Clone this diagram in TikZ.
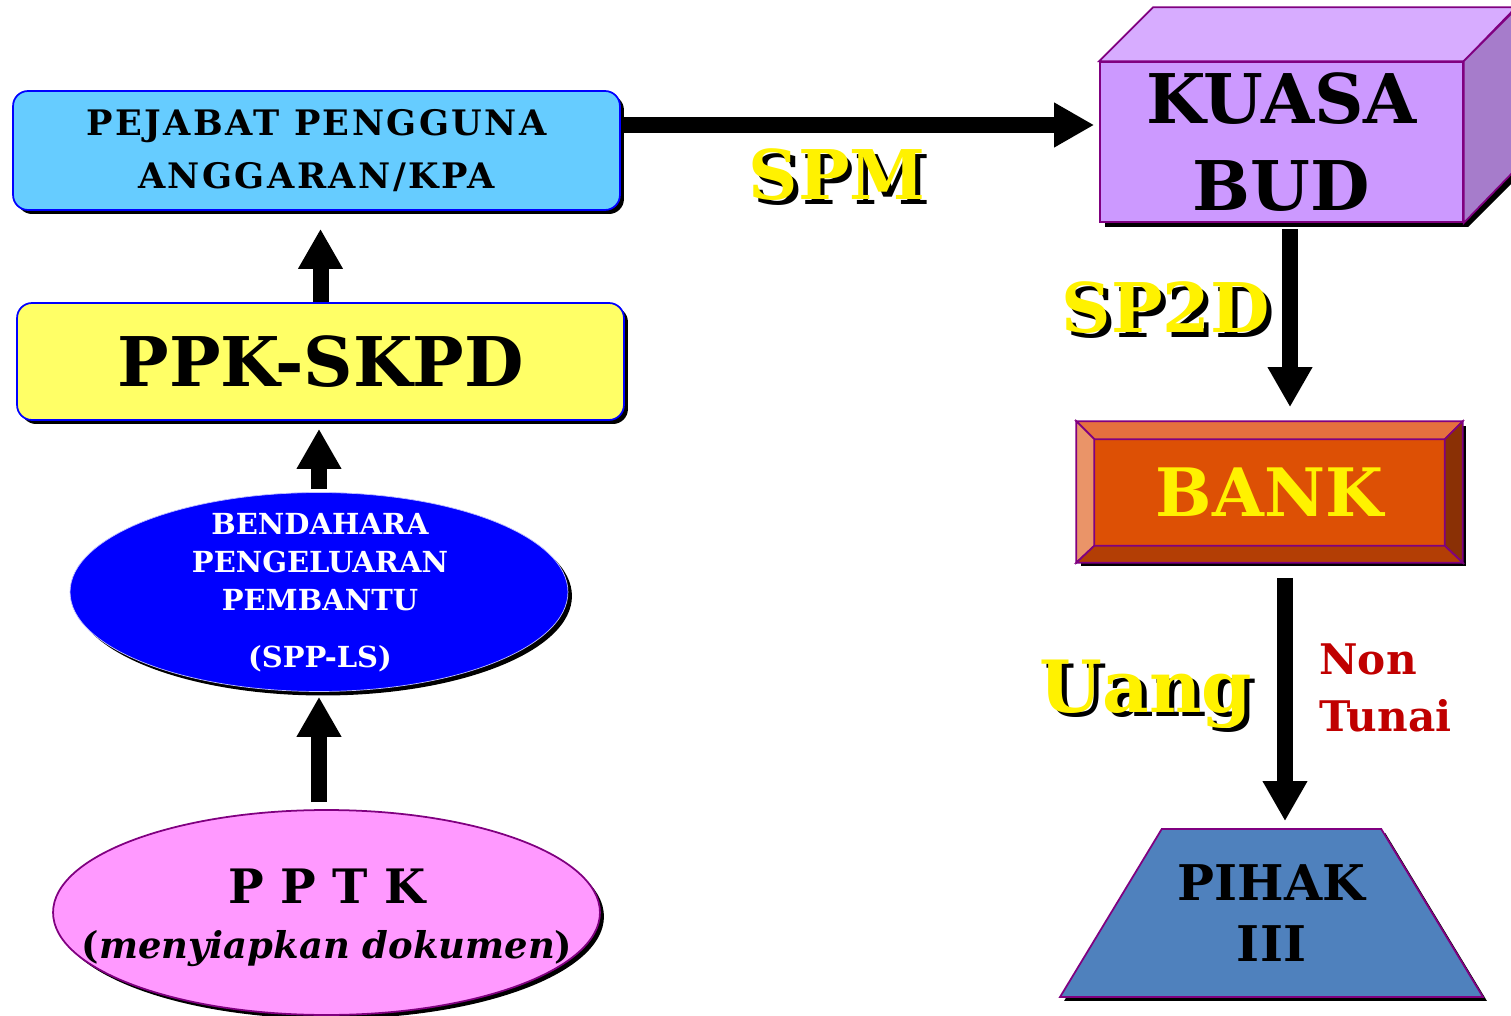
\documentclass[tikz,border=0pt]{standalone}
\usepackage{fontspec}
\setmainfont{DejaVu Serif}
\usetikzlibrary{arrows.meta,shapes.geometric,shadows}

\definecolor{pejafill}{HTML}{66CCFF}
\definecolor{ppkfill}{HTML}{FFFF66}
\definecolor{bordblue}{HTML}{0000FF}
\definecolor{bordpurple}{HTML}{800080}
\definecolor{pptkfill}{HTML}{FF99FF}
\definecolor{cubefront}{HTML}{CC99FF}
\definecolor{cubetop}{HTML}{D7ACFF}
\definecolor{cubeside}{HTML}{A67CCB}
\definecolor{bankmid}{HTML}{DD5005}
\definecolor{banktop}{HTML}{E5703E}
\definecolor{bankleft}{HTML}{EA9468}
\definecolor{bankright}{HTML}{8A3005}
\definecolor{bankbottom}{HTML}{B33E05}
\definecolor{pihakfill}{HTML}{4F81BD}
\definecolor{nontunai}{HTML}{C00000}

\newcommand{\shtext}[1]{\rlap{\kern2.8pt\raisebox{-2.8pt}{\textcolor{black}{#1}}}\textcolor{yellow}{#1}}

\tikzset{
  boxshadow/.style={drop shadow={shadow xshift=0.08cm, shadow yshift=-0.08cm, fill=black, opacity=1}},
  pbox/.style={rectangle, rounded corners=0.3cm, draw=bordblue, line width=1pt, boxshadow, align=center, inner sep=0pt},
  bigarrow/.style={line width=0.32cm, -{Triangle[width=0.84cm,length=0.8cm]}},
  flowlabel/.style={font=\fontsize{39}{44}\selectfont\bfseries, inner sep=0pt, anchor=base}
}

\begin{document}
\begin{tikzpicture}[x=0.02cm, y=-0.02cm]
    \useasboundingbox (0,0) rectangle (1511,1016);

    \node[pbox, fill=pejafill, minimum width=12.14cm, minimum height=2.38cm,
          font=\fontsize{20}{30}\selectfont\bfseries\addfontfeatures{LetterSpace=7}] (peja) at (316.5,150.5) {PEJABAT PENGGUNA\\ANGGARAN/KPA};
    \node[pbox, fill=ppkfill, minimum width=12.14cm, minimum height=2.34cm,
          font=\fontsize{39}{48}\selectfont\bfseries] (ppk) at (320.5,361.5) {PPK-SKPD};
    \node[ellipse, fill=bordblue, draw=white!75!blue, boxshadow, inner sep=0pt,
          minimum width=9.96cm, minimum height=3.98cm] (benda) at (319,592) {};
    \node[text=white, align=center, font=\fontsize{16.5}{21.5}\selectfont\bfseries] (bendatext) at (320,593)
          {BENDAHARA\\PENGELUARAN\\PEMBANTU\\[11pt](SPP-LS)};
    \node[ellipse, fill=pptkfill, draw=bordpurple, line width=1pt, boxshadow, inner sep=0pt,
          minimum width=10.94cm, minimum height=4.1cm] (pptk) at (326.5,912.5) {};
    \node[align=center, font=\fontsize{27}{31}\selectfont\bfseries] (pptktext) at (327,918)
          {P P T K\\\fontsize{21}{31}\selectfont({\itshape menyiapkan dokumen})};

    \fill[black] (1105,67) rectangle (1468,227);
    \fill[black] (1468,227) -- ++(54,-54) -- ++(0,-160) -- ++(-54,54) -- cycle;
    \node[rectangle, fill=cubefront, draw=bordpurple, line width=1pt, minimum width=7.26cm, minimum height=3.2cm,
          align=center, font=\fontsize{39}{50}\selectfont\bfseries] (kuasa) at (1281.5,142) {KUASA\\BUD};
    \filldraw[fill=cubetop, draw=bordpurple, line width=1pt] (kuasa.north west) -- ++(54,-54) -- ++(363,0) -- (kuasa.north east) -- cycle;
    \filldraw[fill=cubeside, draw=bordpurple, line width=1pt] (kuasa.north east) -- ++(54,-54) -- ++(0,160) -- (kuasa.south east) -- cycle;

    \node[rectangle, fill=bankmid, draw=bordpurple, line width=1pt, boxshadow, minimum width=7.7cm, minimum height=2.8cm,
          text=yellow, font=\fontsize{38}{46}\selectfont\bfseries] (bank) at (1269.5,492) {BANK};
    \coordinate (bnw) at ([shift={(18,18)}]bank.north west);
    \coordinate (bne) at ([shift={(-18,18)}]bank.north east);
    \coordinate (bsw) at ([shift={(18,-17)}]bank.south west);
    \coordinate (bse) at ([shift={(-18,-17)}]bank.south east);
    \filldraw[fill=banktop, draw=bordpurple, line width=1pt] (bank.north west) -- (bank.north east) -- (bne) -- (bnw) -- cycle;
    \filldraw[fill=bankleft, draw=bordpurple, line width=1pt] (bank.north west) -- (bnw) -- (bsw) -- (bank.south west) -- cycle;
    \filldraw[fill=bankright, draw=bordpurple, line width=1pt] (bank.north east) -- (bne) -- (bse) -- (bank.south east) -- cycle;
    \filldraw[fill=bankbottom, draw=bordpurple, line width=1pt] (bank.south west) -- (bsw) -- (bse) -- (bank.south east) -- cycle;

    \node[trapezium, trapezium left angle=47, trapezium right angle=47, trapezium stretches body,
          minimum width=8.46cm, minimum height=3.36cm, fill=pihakfill, draw=bordpurple, line width=1pt, boxshadow,
          align=center, font=\fontsize{28}{35}\selectfont\bfseries] (pihak) at (1271.5,913) {PIHAK\\III};

    \draw[bigarrow, shorten >=0.36cm] (ppk.north) -- (ppk.north |- peja.south);
    \draw[bigarrow, shorten <=0.06cm, shorten >=0.16cm] (benda.north) -- (benda.north |- ppk.south);
    \draw[bigarrow, shorten <=0.14cm, shorten >=0.1cm] (benda.south |- pptk.north) -- (benda.south);

    \coordinate (spmfrom) at ([yshift=0.51cm]peja.east);
    \draw[bigarrow, shorten >=0.1cm] (spmfrom) -- (spmfrom -| kuasa.west);
    \coordinate (sp2dfrom) at ([xshift=0.17cm]kuasa.south);
    \draw[bigarrow, shorten <=0.12cm, shorten >=0.28cm] (sp2dfrom) -- (sp2dfrom |- bank.north);
    \coordinate (uangfrom) at ([xshift=0.31cm]bank.south);
    \draw[bigarrow, shorten <=0.3cm, shorten >=0.14cm] (uangfrom) -- (uangfrom |- pihak.north);

    \node[flowlabel] (spm) at (837,200) {\shtext{SPM}};
    \node[flowlabel] (sp2d) at (1166,333) {\shtext{SP2D}};
    \node[flowlabel, font=\fontsize{41}{46}\selectfont\bfseries] (uang) at (1146,712) {\shtext{Uang}};
    \node[anchor=west, align=left, inner sep=0pt, text=nontunai,
          font=\fontsize{24}{32}\selectfont\bfseries] (tunai) at (1319,688) {Non\\Tunai};
\end{tikzpicture}
\end{document}
